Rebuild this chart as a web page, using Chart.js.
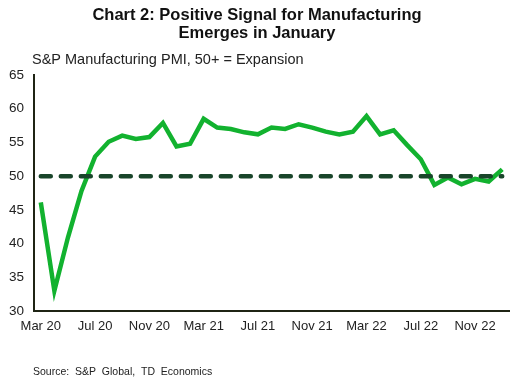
<!DOCTYPE html>
<html>

<head>
    <title>Chart 2: Positive Signal for Manufacturing</title>
    <style>
        body {
            margin: 0;
            background: #fff;
        }
    </style>
</head>

<body>
    <div style="width: 516px; height: 385px">
        <canvas id="pmiChart"></canvas>
    </div>

    <script src="https://cdn.jsdelivr.net/npm/chart.js"></script>

    <script>
        const months = [
            "Mar 20", "Apr 20", "May 20", "Jun 20", "Jul 20", "Aug 20", "Sep 20", "Oct 20", "Nov 20", "Dec 20",
            "Jan 21", "Feb 21", "Mar 21", "Apr 21", "May 21", "Jun 21", "Jul 21", "Aug 21", "Sep 21", "Oct 21",
            "Nov 21", "Dec 21", "Jan 22", "Feb 22", "Mar 22", "Apr 22", "May 22", "Jun 22", "Jul 22", "Aug 22",
            "Sep 22", "Oct 22", "Nov 22", "Dec 22", "Jan 23"
        ]
        const pmi = [
            46.1, 33.0, 40.9, 47.8, 52.9, 55.1, 56.0, 55.5, 55.8, 57.9,
            54.4, 54.8, 58.5, 57.2, 57.0, 56.5, 56.2, 57.2, 57.0, 57.7,
            57.2, 56.6, 56.2, 56.6, 58.9, 56.2, 56.8, 54.6, 52.5, 48.7,
            49.8, 48.8, 49.6, 49.2, 51.0
        ]
        const threshold = months.map(() => 50)

        const fontFamily = '"Liberation Sans", Arial, sans-serif'

        // subtitle and source note, drawn as plain text
        const notes = {
            id: 'notes',
            afterDraw(chart) {
                const c = chart.ctx
                c.save()
                c.fillStyle = '#222'
                c.textBaseline = 'middle'
                c.font = '14.5px ' + fontFamily
                c.fillText('S&P Manufacturing PMI, 50+ = Expansion', 32, 60)
                c.font = '10.5px ' + fontFamily
                c.fillText('Source:  S&P  Global,  TD  Economics', 33, 372)
                c.restore()
            }
        }

        const ctx = document.getElementById('pmiChart')
        new Chart(ctx, {
            type: 'line',
            data: {
                labels: months,
                datasets: [
                    {
                        label: 'Expansion threshold',
                        data: threshold,
                        borderColor: '#19452a',
                        borderWidth: 4.5,
                        borderDash: [10, 10],
                        borderCapStyle: 'round',
                        pointRadius: 0
                    },
                    {
                        label: 'S&P Manufacturing PMI',
                        data: pmi,
                        borderColor: '#12b22f',
                        borderWidth: 4.5,
                        pointRadius: 0,
                        tension: 0
                    }
                ]
            },
            options: {
                responsive: true,
                maintainAspectRatio: false,
                animation: false,
                layout: {
                    padding: { left: 5, right: 7, top: 0, bottom: 45 }
                },
                plugins: {
                    legend: { display: false },
                    tooltip: { enabled: false },
                    title: {
                        display: true,
                        text: ['Chart 2: Positive Signal for Manufacturing', 'Emerges in January'],
                        color: '#111',
                        font: { family: fontFamily, size: 16.5, weight: 'bold', lineHeight: 1.1 },
                        padding: { top: 6, bottom: 32.7 }
                    }
                },
                scales: {
                    x: {
                        type: 'category',
                        offset: true,
                        grid: { display: false, drawTicks: false },
                        border: { display: true, color: '#1f2414', width: 2 },
                        afterFit: (scale) => { scale.height = 29 },
                        ticks: {
                            autoSkip: false,
                            maxRotation: 0,
                            padding: 8,
                            color: '#222',
                            font: { family: fontFamily, size: 13 },
                            callback: function (value, index) {
                                return index % 4 === 0 ? months[index] : null
                            }
                        }
                    },
                    y: {
                        min: 30,
                        max: 65,
                        grid: { display: false, drawTicks: false },
                        border: { display: true, color: '#1f2414', width: 2 },
                        afterFit: (scale) => { scale.width = 29 },
                        ticks: {
                            stepSize: 5,
                            padding: 10,
                            color: '#222',
                            font: { family: fontFamily, size: 13.5 }
                        }
                    }
                }
            },
            plugins: [notes]
        })
    </script>
</body>

</html>
